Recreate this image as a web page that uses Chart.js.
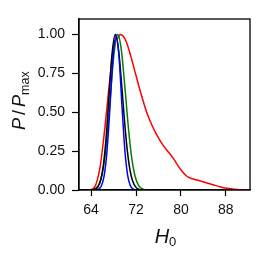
<!DOCTYPE html>
<html>
<head>
<meta charset="utf-8">
<script src="https://cdn.jsdelivr.net/npm/chart.js@4/dist/chart.umd.min.js"></script>
<style>
  html, body { margin: 0; padding: 0; background: #fff; }
  #wrap { width: 270px; height: 262px; }
</style>
</head>
<body>
<div id="wrap"><canvas id="chartH0"></canvas></div>
<script>
// ── datos ──
const redX   = [63.5, 64.2, 64.8, 65.35, 65.7, 66.05, 66.4, 66.8, 67.24, 67.6, 68.0, 68.4, 68.7, 69.2, 69.7, 70.3, 71.0, 71.9, 72.8, 73.9, 74.8, 75.7, 76.6, 77.4, 78.2, 78.8, 79.5, 80.2, 81.0, 82.0, 83.3, 84.5, 85.7, 86.9, 88.1, 89.5, 90.4, 92.0];
const redY   = [0, 0.005, 0.03, 0.10, 0.17, 0.27, 0.38, 0.52, 0.676, 0.80, 0.92, 0.98, 0.975, 1.0, 0.99, 0.95, 0.87, 0.75, 0.63, 0.50, 0.42, 0.355, 0.30, 0.26, 0.225, 0.195, 0.155, 0.12, 0.09, 0.072, 0.06, 0.047, 0.034, 0.021, 0.011, 0.005, 0.002, 0];

const blackX = [64.0, 64.6, 65.2, 65.7, 66.2, 66.7, 67.2, 67.7, 68.3, 68.9, 69.4, 69.9, 70.4, 70.9, 71.4, 72.0, 72.6, 73.2];
const blackY = [0, 0.004, 0.019, 0.061, 0.162, 0.347, 0.607, 0.862, 1.0, 0.899, 0.699, 0.469, 0.271, 0.135, 0.058, 0.017, 0.004, 0];

const blueX  = [64.8, 65.3, 65.8, 66.3, 66.8, 67.3, 67.8, 68.45, 69.0, 69.5, 70.0, 70.5, 71.0, 71.5, 72.0];
const blueY  = [0, 0.005, 0.024, 0.086, 0.235, 0.495, 0.799, 1.0, 0.846, 0.543, 0.264, 0.098, 0.027, 0.006, 0];

const greenX = [64.2, 64.8, 65.4, 66.0, 66.5, 67.0, 67.5, 68.1, 68.75, 69.4, 70.0, 70.6, 71.2, 71.8, 72.4, 73.0, 73.6];
const greenY = [0, 0.01, 0.036, 0.107, 0.224, 0.404, 0.63, 0.882, 1.0, 0.898, 0.671, 0.418, 0.216, 0.093, 0.033, 0.01, 0];

const xTicks = [64, 72, 80, 88];
const yTicks = [0, 0.25, 0.5, 0.75, 1.0];

function puntos(xs, ys) {
    return xs.map(function(x, i) { return { x: x, y: ys[i] }; });
}

function serie(label, xs, ys, color) {
    return {
        label: label,
        data: puntos(xs, ys),
        borderColor: color,
        borderWidth: 1.5,
        pointRadius: 0,
        fill: false,
        cubicInterpolationMode: 'monotone'
    };
}

const FONT = "'Liberation Sans', Arial, sans-serif";

// ── títulos de ejes con subíndices + marco ──
const ejesPlugin = {
    id: 'ejes',
    afterDraw: function(chart) {
        const ctx = chart.ctx;
        const a = chart.chartArea;
        ctx.save();
        // marco completo
        ctx.strokeStyle = '#000';
        ctx.lineWidth = 1.3;
        ctx.strokeRect(a.left, a.top, a.right - a.left, a.bottom - a.top);

        ctx.fillStyle = '#111';
        ctx.textBaseline = 'alphabetic';
        ctx.textAlign = 'left';

        // H_0
        ctx.font = 'italic 20px ' + FONT;
        const wH = ctx.measureText('H').width;
        ctx.font = '13px ' + FONT;
        const w0 = ctx.measureText('0').width;
        const x0 = (a.left + a.right) / 2 - (wH + w0) / 2 + 1;
        ctx.font = 'italic 20px ' + FONT;
        ctx.fillText('H', x0, 242.7);
        ctx.font = '13px ' + FONT;
        ctx.fillText('0', x0 + wH, 246);

        // P / P_max
        ctx.translate(25, 130);
        ctx.rotate(-Math.PI / 2);
        let x = 0;
        ctx.font = 'italic 18px ' + FONT;
        ctx.fillText('P', 0, 0);
        x += ctx.measureText('P').width + 3;
        ctx.font = '18px ' + FONT;
        ctx.fillText('/', x, 0);
        x += ctx.measureText('/').width + 3;
        ctx.font = 'italic 18px ' + FONT;
        ctx.fillText('P', x, 0);
        x += ctx.measureText('P').width;
        ctx.font = '12.5px ' + FONT;
        ctx.fillText('max', x, 3.5);
        ctx.restore();
    }
};

new Chart(document.getElementById('chartH0'), {
    type: 'line',
    data: {
        datasets: [
            serie('azul',  blueX,  blueY,  '#0000ff'),
            serie('negro', blackX, blackY, '#000000'),
            serie('verde', greenX, greenY, '#008000'),
            serie('rojo',  redX,   redY,   '#ff0000')
        ]
    },
    options: {
        responsive: true,
        maintainAspectRatio: false,
        animation: false,
        layout: { padding: { left: 0, right: 20, top: 19, bottom: 0 } },
        plugins: { legend: { display: false }, tooltip: { enabled: false } },
        scales: {
            x: {
                type: 'linear',
                min: 61.85, max: 92.3,
                afterFit: function(s) { s.height = 72; },
                afterBuildTicks: function(s) { s.ticks = xTicks.map(function(v) { return { value: v }; }); },
                grid: { display: true, drawOnChartArea: false, drawTicks: true, tickLength: 6, tickWidth: 1.2, tickColor: '#000' },
                border: { display: true, color: '#000', width: 1.3 },
                ticks: { font: { family: FONT, size: 14 }, color: '#111', padding: 6, maxRotation: 0 }
            },
            y: {
                min: 0, max: 1.1,
                afterFit: function(s) { s.width = 79; },
                afterBuildTicks: function(s) { s.ticks = yTicks.map(function(v) { return { value: v }; }); },
                grid: { display: true, drawOnChartArea: false, drawTicks: true, tickLength: 7, tickWidth: 1.2, tickColor: '#000' },
                border: { display: true, color: '#000', width: 1.3 },
                ticks: {
                    font: { family: FONT, size: 14 }, color: '#111', padding: 7,
                    callback: function(v) { return v.toFixed(2); }
                }
            }
        }
    },
    plugins: [ejesPlugin]
});
</script>
</body>
</html>
